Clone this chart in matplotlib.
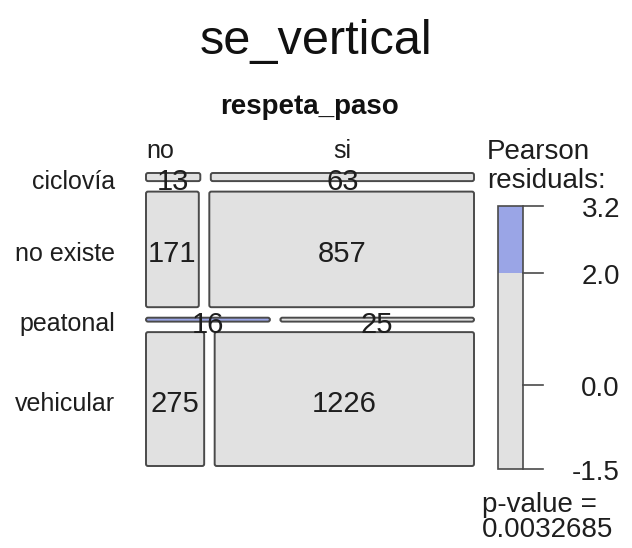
import matplotlib
matplotlib.use('Agg')
import matplotlib.pyplot as plt
from matplotlib.patches import FancyBboxPatch, Rectangle

plt.rcParams['font.family'] = ['Liberation Sans', 'DejaVu Sans']

# datos de la tabla
filas = ['ciclovía', 'no existe', 'peatonal', 'vehicular']
columnas = ['no', 'si']
no_cuenta = [13, 171, 16, 275]
si_cuenta = [63, 857, 25, 1226]
# altura relativa de cada fila tal como aparece en la figura
alto_fila = [0.031, 0.442, 0.015, 0.512]
# residuo de Pearson > 2 -> celda azul
resaltada = [(2, 0)]

ticks_leyenda = [3.2, 2.0, 0.0, -1.5]
res_min, res_max = -1.5, 3.2
umbral = 2.0
p_valor = '0.0032685'

gris = '#E1E1E1'
azul = '#9AA5E6'
borde = '#4a4a4a'
texto = '#1e1e1e'

fig = plt.figure(figsize=(6.32, 5.48), dpi=100)
ax = fig.add_axes([0, 0, 1, 1])
ax.set_xlim(0, 632)
ax.set_ylim(548, 0)
ax.axis('off')

# area del mosaico en pixeles
x0, x1 = 146, 474
y0, y1 = 173, 466
hueco = 10.5
alto_total = (y1 - y0) - hueco * (len(filas) - 1)
ancho_total = (x1 - x0) - hueco

def caja(x, y, w, h, color):
    p = FancyBboxPatch((x, y), w, h, boxstyle='round,pad=0,rounding_size=2',
                       facecolor=color, edgecolor=borde, linewidth=1.4)
    ax.add_patch(p)

y = y0
for i, fila in enumerate(filas):
    h = alto_fila[i] * alto_total
    tot = no_cuenta[i] + si_cuenta[i]
    w_no = ancho_total * no_cuenta[i] / tot
    celdas = [(x0, w_no, no_cuenta[i]), (x0 + w_no + hueco, x1 - (x0 + w_no + hueco), si_cuenta[i])]
    for j, (xc, wc, n) in enumerate(celdas):
        col = azul if (i, j) in resaltada else gris
        caja(xc, y, wc, h, col)
        ax.text(xc + wc / 2, y + h / 2 + 2, str(n), ha='center', va='center_baseline',
                fontsize=21, color=texto)
        if i == 0:
            if j == 0:
                ax.text(xc, 148, columnas[j], ha='left', va='center_baseline', fontsize=18, color=texto)
            else:
                ax.text(xc + wc / 2, 148, columnas[j], ha='center', va='center_baseline', fontsize=18, color=texto)
    ax.text(115, y + h / 2 + 2, fila, ha='right', va='center_baseline', fontsize=18, color=texto)
    y += h + hueco

ax.text(316, 36, 'se_vertical', ha='center', va='center_baseline', fontsize=35, color='#111111')
ax.text(310, 104, 'respeta_paso', ha='center', va='center_baseline', fontsize=20,
        fontweight='bold', color='#111111')

# leyenda
lx0, lx1 = 498, 523
ly0, ly1 = 206, 469
def ypix(v):
    return ly0 + (res_max - v) / (res_max - res_min) * (ly1 - ly0)

ax.add_patch(Rectangle((lx0, ypix(umbral)), lx1 - lx0, ypix(res_min) - ypix(umbral),
                       facecolor=gris, edgecolor='none'))
ax.add_patch(Rectangle((lx0, ypix(res_max)), lx1 - lx0, ypix(umbral) - ypix(res_max),
                       facecolor=azul, edgecolor='none'))
ax.add_patch(Rectangle((lx0, ly0), lx1 - lx0, ly1 - ly0, facecolor='none',
                       edgecolor=borde, linewidth=1.2))
for t in ticks_leyenda:
    ax.plot([lx1, 543], [ypix(t), ypix(t)], color=borde, linewidth=1.2)
    ax.text(620, ypix(t) + 1, f'{t:.1f}', ha='right', va='center_baseline', fontsize=20, color=texto)

ax.text(487, 149, 'Pearson', ha='left', va='center_baseline', fontsize=20, color=texto)
ax.text(487, 178, 'residuals:', ha='left', va='center_baseline', fontsize=20, color=texto)
ax.text(482, 502, 'p-value =', ha='left', va='center_baseline', fontsize=20, color=texto)
ax.text(482, 527, p_valor, ha='left', va='center_baseline', fontsize=20, color=texto)

fig.savefig('out.png', dpi=100, facecolor='white')
